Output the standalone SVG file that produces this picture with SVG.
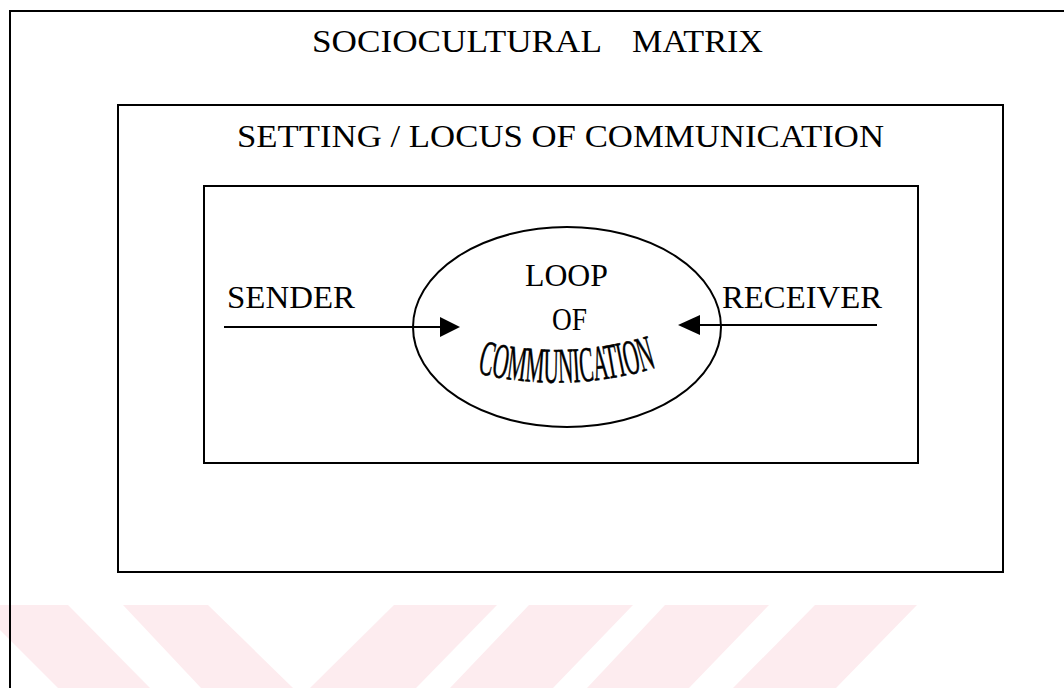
<svg xmlns="http://www.w3.org/2000/svg" width="1064" height="688" viewBox="0 0 1064 688">
  <style>
    .box { fill: none; stroke: #000; stroke-width: 2; }
    .lbl { font-family: "Liberation Serif", "Times New Roman", serif; font-size: 31px; fill: #000; }
    .arch { font-size: 50px; stroke: #000; stroke-width: 0.6; }
    .stripe { fill: #fdecef; stroke: none; }
    .conn { stroke: #000; stroke-width: 2; fill: none; }
    .head { fill: #000; stroke: none; }
  </style>
  <defs>
    <path id="arc" d="M 477 373 Q 567 395 659 367"/>
  </defs>
  <rect width="1064" height="688" fill="#fff"/>
  <g id="watermark">
    <polygon class="stripe" points="0,605 68,605 150,688 58,688 0,630"/>
    <polygon class="stripe" points="123,605 208,605 293,688 201,688"/>
    <polygon class="stripe" points="394,605 497,605 416,688 310,688"/>
    <polygon class="stripe" points="529,605 633,605 553,688 450,688"/>
    <polygon class="stripe" points="665,605 769,605 689,688 587,688"/>
    <polygon class="stripe" points="815,605 917,605 836,688 733,688"/>
  </g>
  <g id="sociocultural-matrix">
    <rect class="box" x="10" y="11" width="1070" height="700"/>
    <text class="lbl" y="52"><tspan x="312" textLength="290" lengthAdjust="spacingAndGlyphs">SOCIOCULTURAL</tspan><tspan x="632" textLength="131" lengthAdjust="spacingAndGlyphs">MATRIX</tspan></text>
  </g>
  <g id="setting-locus">
    <rect class="box" x="118" y="105" width="885" height="467"/>
    <text class="lbl" x="237" y="147" textLength="647" lengthAdjust="spacingAndGlyphs">SETTING / LOCUS OF COMMUNICATION</text>
  </g>
  <g id="inner-box">
    <rect class="box" x="204" y="186" width="714" height="277"/>
  </g>
  <g id="loop-of-communication">
    <ellipse class="box" cx="567" cy="327" rx="154" ry="100"/>
    <text class="lbl" x="525" y="286" textLength="83" lengthAdjust="spacingAndGlyphs">LOOP</text>
    <text class="lbl" x="552" y="330" textLength="35" lengthAdjust="spacingAndGlyphs">OF</text>
    <text class="lbl arch"><textPath href="#arc" textLength="182" lengthAdjust="spacingAndGlyphs">COMMUNICATION</textPath></text>
  </g>
  <g id="sender">
    <text class="lbl" x="227" y="308" textLength="128" lengthAdjust="spacingAndGlyphs">SENDER</text>
  </g>
  <g id="receiver">
    <text class="lbl" x="722" y="308" textLength="160" lengthAdjust="spacingAndGlyphs">RECEIVER</text>
  </g>
  <g id="connectors">
    <line class="conn" x1="224" y1="327" x2="442" y2="327"/>
    <polygon class="head" points="440,317 460,327 440,337"/>
    <line class="conn" x1="877" y1="325" x2="698" y2="325"/>
    <polygon class="head" points="700,315 678,325 700,335"/>
  </g>
</svg>
